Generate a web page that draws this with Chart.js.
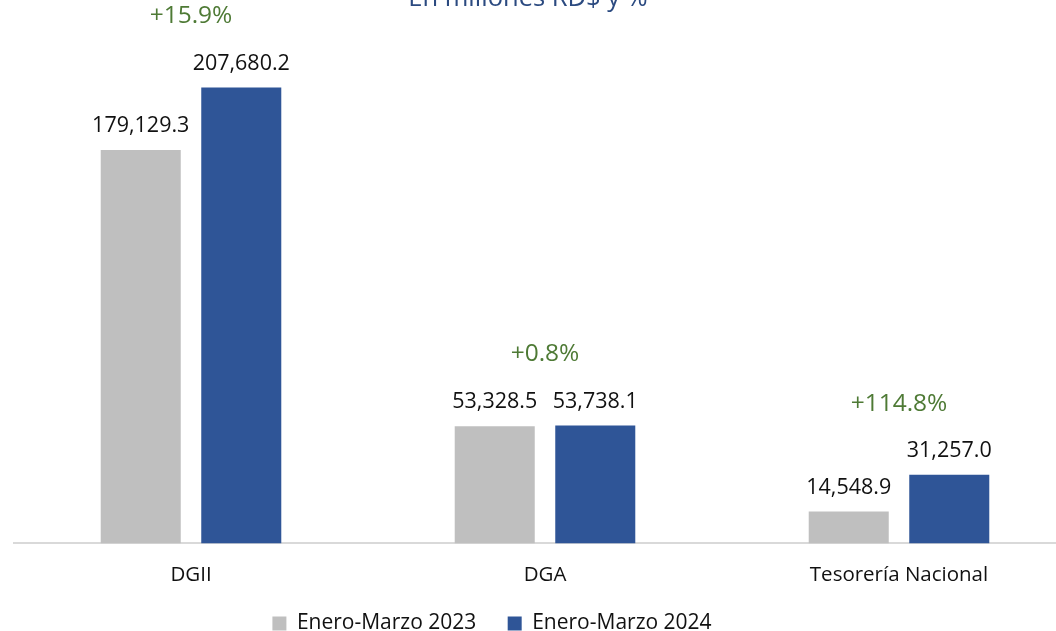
<!DOCTYPE html>
<html>
<head>
<meta charset="utf-8">
<script src="https://cdn.jsdelivr.net/npm/chart.js@4.4.1/dist/chart.umd.min.js"></script>
<style>
  html, body { margin: 0; padding: 0; background: #ffffff; }
  #frame { width: 1056px; height: 631px; overflow: hidden; position: relative; }
  #wrap { position: absolute; left: 0; top: 0; width: 1080px; height: 631px; }
</style>
</head>
<body>
<div id="frame"><div id="wrap"><canvas id="chart"></canvas></div></div>
<script>
// ── 데이터 ─────────────────────────────
const categories = ['DGII', 'DGA', 'Tesorería Nacional'];
const seriesNames = ['Enero-Marzo 2023', 'Enero-Marzo 2024'];
const values2023 = [179129.3, 53328.5, 14548.9];
const values2024 = [207680.2, 53738.1, 31257.0];
const pctLabels = ['+15.9%', '+0.8%', '+114.8%'];
const titleText = 'En millones RD$ y %';

// ── 색상 ───────────────────────────────
const COLORS = {
  gray: '#BFBFBF',
  blue: '#2F5597',
  green: '#4E7A35',
  title: '#2B4A80',
  ink: '#111111',
  axis: '#D9D9D9'
};
const FONT = "'Open Sans', 'Noto Sans', sans-serif";

const fmt = v => v.toLocaleString('en-US', { minimumFractionDigits: 1, maximumFractionDigits: 1 });

// 막대 위 값 + 증감률 + 잘린 제목
const labelsPlugin = {
  id: 'labels',
  afterDatasetsDraw(chart) {
    const ctx = chart.ctx;
    ctx.save();
    ctx.textAlign = 'center';
    ctx.textBaseline = 'middle';
    ctx.font = `21.5px ${FONT}`;
    ctx.fillStyle = COLORS.ink;
    chart.data.datasets.forEach((ds, di) => {
      chart.getDatasetMeta(di).data.forEach((bar, i) => {
        ctx.fillText(fmt(ds.data[i]), bar.x, bar.y - 24);
      });
    });
    const yScale = chart.scales.y;
    const xScale = chart.scales.x;
    ctx.font = `24.5px ${FONT}`;
    ctx.fillStyle = COLORS.green;
    pctLabels.forEach((t, i) => {
      const top = yScale.getPixelForValue(Math.max(values2023[i], values2024[i]));
      ctx.fillText(t, xScale.getPixelForValue(i), top - 71);
    });
    ctx.font = `25.5px ${FONT}`;
    ctx.fillStyle = COLORS.title;
    ctx.textBaseline = 'alphabetic';
    ctx.fillText(titleText, 528, 6);
    ctx.restore();
  }
};

// 범례를 왼쪽으로 약간 이동
const legendShift = {
  id: 'legendShift',
  afterLayout(chart) {
    if (!chart.legend) return;
    chart.legend.left -= 53;
    chart.legend.right -= 53;
  }
};

new Chart(document.getElementById('chart'), {
  type: 'bar',
  data: {
    labels: categories,
    datasets: [
      { label: seriesNames[0], data: values2023, backgroundColor: COLORS.gray },
      { label: seriesNames[1], data: values2024, backgroundColor: COLORS.blue }
    ]
  },
  options: {
    responsive: true,
    maintainAspectRatio: false,
    animation: false,
    categoryPercentage: 0.568,
    barPercentage: 0.796,
    layout: { padding: { left: 14, right: 4, top: 0, bottom: -13 } },
    plugins: {
      legend: {
        position: 'bottom',
        labels: {
          color: COLORS.ink,
          font: { size: 21, family: FONT },
          boxWidth: 14,
          boxHeight: 14,
          padding: 15,
          generateLabels(chart) {
            const items = Chart.defaults.plugins.legend.labels.generateLabels(chart);
            // 항목 사이 간격 넓히기
            items.forEach((it, i) => {
              if (i < items.length - 1) it.text += '\u00A0'.repeat(3);
            });
            return items;
          }
        }
      },
      tooltip: { enabled: false },
      title: { display: false }
    },
    scales: {
      x: {
        grid: { display: false },
        border: { display: true, color: COLORS.axis, width: 2 },
        ticks: { color: COLORS.ink, font: { size: 20.5, family: FONT }, padding: 11 }
      },
      y: {
        display: false,
        min: 0,
        max: 247500
      }
    }
  },
  plugins: [labelsPlugin, legendShift]
});
</script>
</body>
</html>
